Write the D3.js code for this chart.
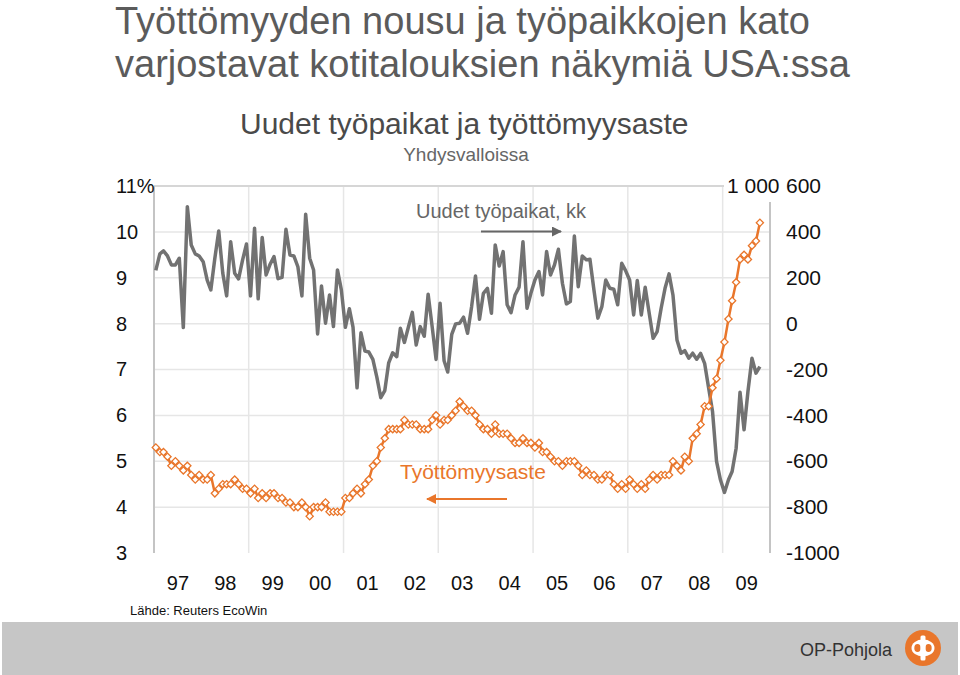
<!DOCTYPE html>
<html>
<head>
<meta charset="utf-8">
<script src="https://cdn.jsdelivr.net/npm/d3@7"></script>
<style>
  body { margin: 0; background: #fff; }
  svg { display: block; font-family: "Liberation Sans", Arial, sans-serif; }
</style>
</head>
<body>
<div id="chart"></div>
<script>
// vuodet (x-akselin tekstit)
const years = ["97","98","99","00","01","02","03","04","05","06","07","08","09"];
const firstYear = 1997;
// työttömyysaste %, kuukausittain 1/1997 - 10/2009
const unemployment = [
  5.3,5.2,5.2,5.1,4.9,5.0,4.9,4.8,4.9,4.7,4.6,4.7,
  4.6,4.6,4.7,4.3,4.4,4.5,4.5,4.5,4.6,4.5,4.4,4.4,
  4.3,4.4,4.2,4.3,4.2,4.3,4.3,4.2,4.2,4.1,4.1,4.0,
  4.0,4.1,4.0,3.8,4.0,4.0,4.0,4.1,3.9,3.9,3.9,3.9,
  4.2,4.2,4.3,4.4,4.3,4.5,4.6,4.9,5.0,5.3,5.5,5.7,
  5.7,5.7,5.7,5.9,5.8,5.8,5.8,5.7,5.7,5.7,5.9,6.0,
  5.8,5.9,5.9,6.0,6.1,6.3,6.2,6.1,6.1,6.0,5.8,5.7,
  5.7,5.6,5.8,5.6,5.6,5.6,5.5,5.4,5.4,5.5,5.4,5.4,
  5.3,5.4,5.2,5.2,5.1,5.0,5.0,4.9,5.0,5.0,5.0,4.9,
  4.7,4.8,4.7,4.7,4.6,4.6,4.7,4.7,4.5,4.4,4.5,4.4,
  4.6,4.5,4.4,4.5,4.4,4.6,4.7,4.6,4.7,4.7,4.7,5.0,
  4.9,4.8,5.1,5.0,5.5,5.6,5.8,6.2,6.2,6.6,6.8,7.2,
  7.6,8.1,8.5,8.9,9.4,9.5,9.4,9.7,9.8,10.2
];
// uudet työpaikat, tuhatta / kk
const payrolls = [
  232,304,317,295,256,256,285,-17,510,343,304,295,
  270,190,147,285,404,220,121,357,220,195,278,347,
  121,416,108,376,212,259,292,196,202,411,299,295,
  248,121,477,285,234,-45,164,2,125,-13,234,147,
  -16,65,-15,-280,-40,-120,-124,-156,-234,-323,-292,-171,
  -127,-144,-20,-82,-17,49,-93,-13,-55,128,-13,-156,
  89,-162,-211,-47,-1,2,28,-42,74,208,19,132,
  154,45,343,251,314,82,48,125,159,357,67,132,
  190,227,125,314,212,256,324,176,86,96,382,161,
  295,278,281,147,24,74,190,154,150,82,263,231,
  190,38,188,38,159,45,-64,-35,67,154,217,125,
  -71,-129,-118,-151,-129,-155,-130,-173,-281,-383,-601,-681,
  -736,-681,-645,-543,-299,-463,-296,-151,-216,-187
];
const leftTicks = [3,4,5,6,7,8,9,10,11];
const rightTicks = [600,400,200,0,-200,-400,-600,-800,-1000];
const rightTopLabel = "1 000";

const W = 960, H = 675;
const orange = "#e9762b", grey = "#727272";

const svg = d3.select("#chart").append("svg")
  .attr("width", W).attr("height", H);

const x = d3.scaleTime()
  .domain([new Date(firstYear, 0, 1), new Date(firstYear + years.length, 0, 1)])
  .range([154, 770]);
const yL = d3.scaleLinear().domain([3, 11]).range([553, 186]);
const yR = d3.scaleLinear().domain([-1000, 600]).range([553, 186]);
const month = i => new Date(firstYear, i, 15);

// otsikot
const title = svg.append("g").attr("fill", "#5b5b5b").style("font-size", "38px");
title.append("text").attr("x", 115).attr("y", 34).text("Työttömyyden nousu ja työpaikkojen kato");
title.append("text").attr("x", 115).attr("y", 77).text("varjostavat kotitalouksien näkymiä USA:ssa");

svg.append("text").attr("x", 240).attr("y", 134).attr("fill", "#4a4a4a")
  .style("font-size", "30px").text("Uudet työpaikat ja työttömyysaste");
svg.append("text").attr("x", 466).attr("y", 161).attr("fill", "#666")
  .attr("text-anchor", "middle").style("font-size", "19px").text("Yhdysvalloissa");

// ruudukko
const grid = svg.append("g");
grid.selectAll(".h").data(leftTicks.filter(d => d > 3 && d < 11)).join("line")
  .attr("x1", 154).attr("x2", 770)
  .attr("y1", d => yL(d)).attr("y2", d => yL(d))
  .attr("stroke", "#e6e6e6").attr("stroke-width", 1.5);
grid.selectAll(".v").data(d3.range(2, years.length, 2)).join("line")
  .attr("x1", d => x(new Date(firstYear + d, 0, 1))).attr("x2", d => x(new Date(firstYear + d, 0, 1)))
  .attr("y1", 186).attr("y2", 553)
  .attr("stroke", "#e6e6e6").attr("stroke-width", 1.5);
grid.append("line").attr("x1", 154).attr("x2", 770).attr("y1", yL(11)).attr("y2", yL(11))
  .attr("stroke", "#d6d6d6").attr("stroke-width", 2);
grid.append("line").attr("x1", 154).attr("x2", 154).attr("y1", 186).attr("y2", 553)
  .attr("stroke", "#c4c4c4").attr("stroke-width", 2);
grid.append("line").attr("x1", 770).attr("x2", 770).attr("y1", 202).attr("y2", 553)
  .attr("stroke", "#c4c4c4").attr("stroke-width", 2);

// sarjat
const lineP = d3.line().x((d, i) => x(month(i))).y(d => yR(d));
svg.append("path").datum(payrolls).attr("d", lineP)
  .attr("fill", "none").attr("stroke", grey).attr("stroke-width", 3.5)
  .attr("stroke-linejoin", "round");

const lineU = d3.line().x((d, i) => x(month(i))).y(d => yL(d));
svg.append("path").datum(unemployment).attr("d", lineU)
  .attr("fill", "none").attr("stroke", orange).attr("stroke-width", 2.5);
svg.append("g").selectAll("path").data(unemployment).join("path")
  .attr("d", d3.symbol(d3.symbolSquare, 26))
  .attr("transform", (d, i) => `translate(${x(month(i))},${yL(d)}) rotate(45)`)
  .attr("fill", "#fff").attr("stroke", orange).attr("stroke-width", 1.3);

// akselit
const axL = svg.append("g").attr("transform", "translate(116,0)")
  .call(d3.axisLeft(yL).tickValues(leftTicks).tickSize(0).tickPadding(0)
    .tickFormat(d => d === 11 ? "11%" : d));
axL.select(".domain").remove();
axL.selectAll("text").attr("text-anchor", "start").attr("x", 0)
  .attr("fill", "#111").style("font-size", "20px").style("font-family", null);

const axR = svg.append("g").attr("transform", "translate(786,0)")
  .call(d3.axisRight(yR).tickValues(rightTicks).tickSize(0).tickPadding(0)
    .tickFormat(d => String(d)));
axR.select(".domain").remove();
axR.selectAll("text").attr("fill", "#111").style("font-size", "21px").style("font-family", null);

svg.append("rect").attr("x", 724).attr("y", 172).attr("width", 58).attr("height", 28).attr("fill", "#fff");
svg.append("text").attr("x", 727).attr("y", yR(rightTicks[0])).attr("dy", "0.32em")
  .attr("fill", "#111").style("font-size", "21px").text(rightTopLabel);

const axX = svg.append("g").attr("transform", "translate(0,576)")
  .call(d3.axisBottom(x)
    .tickValues(years.map((d, i) => new Date(firstYear + i, 6, 1)))
    .tickFormat((d, i) => years[i]).tickSize(0).tickPadding(0));
axX.select(".domain").remove();
axX.selectAll("text").attr("fill", "#111").style("font-size", "20px").style("font-family", null);

// selitteet nuolineen
const defs = svg.append("defs");
[["arrG", "#666"], ["arrO", orange]].forEach(([id, c]) => {
  defs.append("marker").attr("id", id).attr("viewBox", "0 0 10 10")
    .attr("refX", 9).attr("refY", 5).attr("markerWidth", 5).attr("markerHeight", 5)
    .attr("orient", "auto")
    .append("path").attr("d", "M0,0L10,5L0,10z").attr("fill", c);
});
svg.append("text").attr("x", 416).attr("y", 218).attr("fill", "#666")
  .style("font-size", "20px").text("Uudet työpaikat, kk");
svg.append("line").attr("x1", 481).attr("x2", 561).attr("y1", 231.5).attr("y2", 231.5)
  .attr("stroke", "#666").attr("stroke-width", 2).attr("marker-end", "url(#arrG)");
svg.append("text").attr("x", 400).attr("y", 479).attr("fill", orange)
  .style("font-size", "21px").text("Työttömyysaste");
svg.append("line").attr("x1", 507).attr("x2", 427).attr("y1", 499).attr("y2", 499)
  .attr("stroke", orange).attr("stroke-width", 2).attr("marker-end", "url(#arrO)");

svg.append("text").attr("x", 130).attr("y", 615).attr("fill", "#111")
  .style("font-size", "13px").text("Lähde: Reuters EcoWin");

// alapalkki ja logo
svg.append("rect").attr("x", 2).attr("y", 622).attr("width", 956).attr("height", 53).attr("fill", "#c6c6c6");
svg.append("text").attr("x", 800).attr("y", 656).attr("fill", "#333")
  .style("font-size", "18px").text("OP-Pohjola");
const logo = svg.append("g").attr("transform", "translate(923,648)");
logo.append("circle").attr("r", 18).attr("fill", orange);
logo.append("ellipse").attr("rx", 11.5).attr("ry", 8.5).attr("fill", "#fff");
logo.append("ellipse").attr("cx", -5.5).attr("rx", 3.2).attr("ry", 4).attr("fill", orange);
logo.append("ellipse").attr("cx", 5.5).attr("rx", 3.2).attr("ry", 4).attr("fill", orange);
logo.append("rect").attr("x", -2.5).attr("y", -12.5).attr("width", 5).attr("height", 25).attr("rx", 1.5).attr("fill", "#fff");
</script>
</body>
</html>
